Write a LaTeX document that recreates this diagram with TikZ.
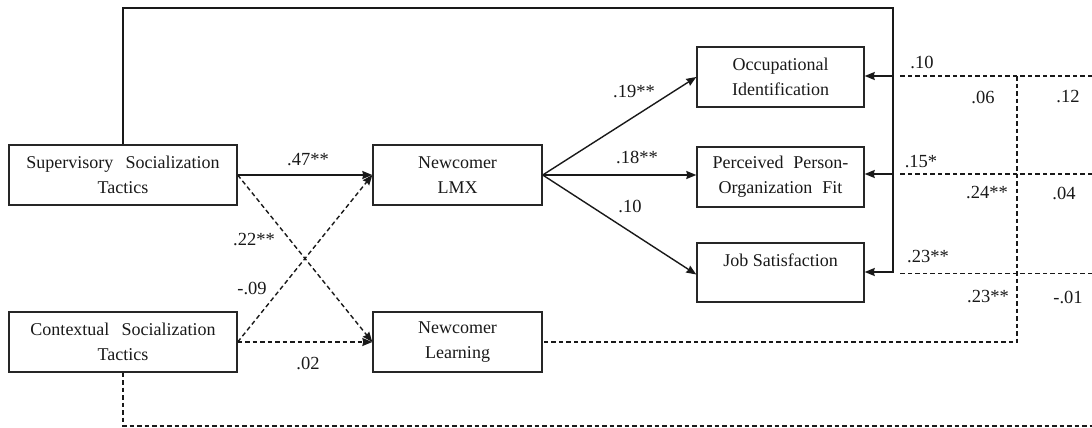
\documentclass[tikz,border=0pt]{standalone}
\usepackage{fontspec}
\setmainfont{Liberation Serif}
\usetikzlibrary{arrows.meta}
\begin{document}
\begin{tikzpicture}[x=1pt,y=-1pt,
  box/.style={draw=black!85, line width=1.4pt, rectangle, align=center, inner sep=0pt,
    font=\fontsize{18}{25}\selectfont, text=black!90},
  lab/.style={font=\fontsize{18.5}{20}\selectfont, text=black!90, inner sep=0pt},
  conn/.style={draw=black!90, line width=1.4pt},
  tip/.style={-{Stealth[length=10pt,width=8pt,inset=1pt]}},
  arr/.style={conn, tip},
  dsh/.style={conn, dash pattern=on 4.5pt off 3pt}
]
\useasboundingbox (0,0) rectangle (1092,428);
% boxes
\node[box, minimum width=228pt, minimum height=60pt] (sup) at (123,175) {Supervisory\hspace{0.42em} Socialization\\Tactics};
\node[box, minimum width=228pt, minimum height=60pt] (con) at (123,342) {Contextual\hspace{0.42em} Socialization\\Tactics};
\node[box, minimum width=169pt, minimum height=60pt] (lmx) at (457.5,175) {Newcomer\\LMX};
\node[box, minimum width=169pt, minimum height=60pt] (lrn) at (457.5,342) {Newcomer\\Learning};
\node[box, minimum width=167pt, minimum height=60pt] (occ) at (780.5,77) {Occupational\\Identification};
\node[box, minimum width=167pt, minimum height=60pt] (pof) at (780.5,177) {Perceived\hspace{0.3em} Person-\\Organization\hspace{0.3em} Fit};
\node[box, minimum width=167pt, minimum height=59pt] (job) at (780.5,272.5) {Job Satisfaction\\\mbox{}};
% coordinates
\coordinate (t1) at (123,8);
\coordinate (t2) at (893,8);
\coordinate (t3) at (893,272);
\coordinate (r1) at (1092,76);
\coordinate (m1) at (897,76);
\coordinate (s1) at (893,76);
\coordinate (r2) at (1092,174);
\coordinate (m2) at (897,174);
\coordinate (s2) at (893,174);
\coordinate (r3) at (1092,273.5);
\coordinate (m3) at (900,273.5);
\coordinate (v1) at (1017,76);
\coordinate (v2) at (1017,342);
\coordinate (b1) at (123,426);
\coordinate (b2) at (1092,426);
% solid paths
\draw[arr] (sup.east) -- (lmx.west);
\draw[arr] (lmx.east) -- (occ.west);
\draw[arr] (lmx.east) -- (lmx.east -| pof.west);
\draw[arr] (lmx.east) -- ([yshift=-2pt]job.west);
\draw[arr] (sup.north) -- (t1) -- (t2) -- (t3) -- (t3 -| job.east);
\draw[arr] (s1) -- (s1 -| occ.east);
\draw[arr] (s2) -- (s2 -| pof.east);
% dashed paths
\draw[dsh, tip] (sup.east) -- (lrn.west);
\draw[dsh, tip] (con.east) -- (lmx.west);
\draw[dsh, tip] (con.east) -- (lrn.west);
\draw[dsh] (r1) -- (m1);
\draw[dsh] (r2) -- (m2);
\draw[dsh] (r3) -- (m3);
\draw[dsh] (v1) -- (v2) -- (lrn.east);
\draw[dsh] (con.south) -- (b1) -- (b2);
% labels
\node[lab] (l47) at (308,160) {.47**};
\node[lab] (l22) at (254,240) {.22**};
\node[lab] (l09) at (252,288) {-.09};
\node[lab] (l02) at (308,363) {.02};
\node[lab] (l19) at (634,92) {.19**};
\node[lab] (l18) at (637,157) {.18**};
\node[lab] (l10) at (630,206) {.10};
\node[lab] (r10) at (922,62) {.10};
\node[lab] (r06) at (983,97) {.06};
\node[lab] (r12) at (1068,97) {.12};
\node[lab] (r15) at (921,162) {.15*};
\node[lab] (r24) at (987,193) {.24**};
\node[lab] (r04) at (1064,193) {.04};
\node[lab] (r23a) at (928,257) {.23**};
\node[lab] (r23b) at (988,297) {.23**};
\node[lab] (r01) at (1068,297) {-.01};
\end{tikzpicture}
\end{document}
